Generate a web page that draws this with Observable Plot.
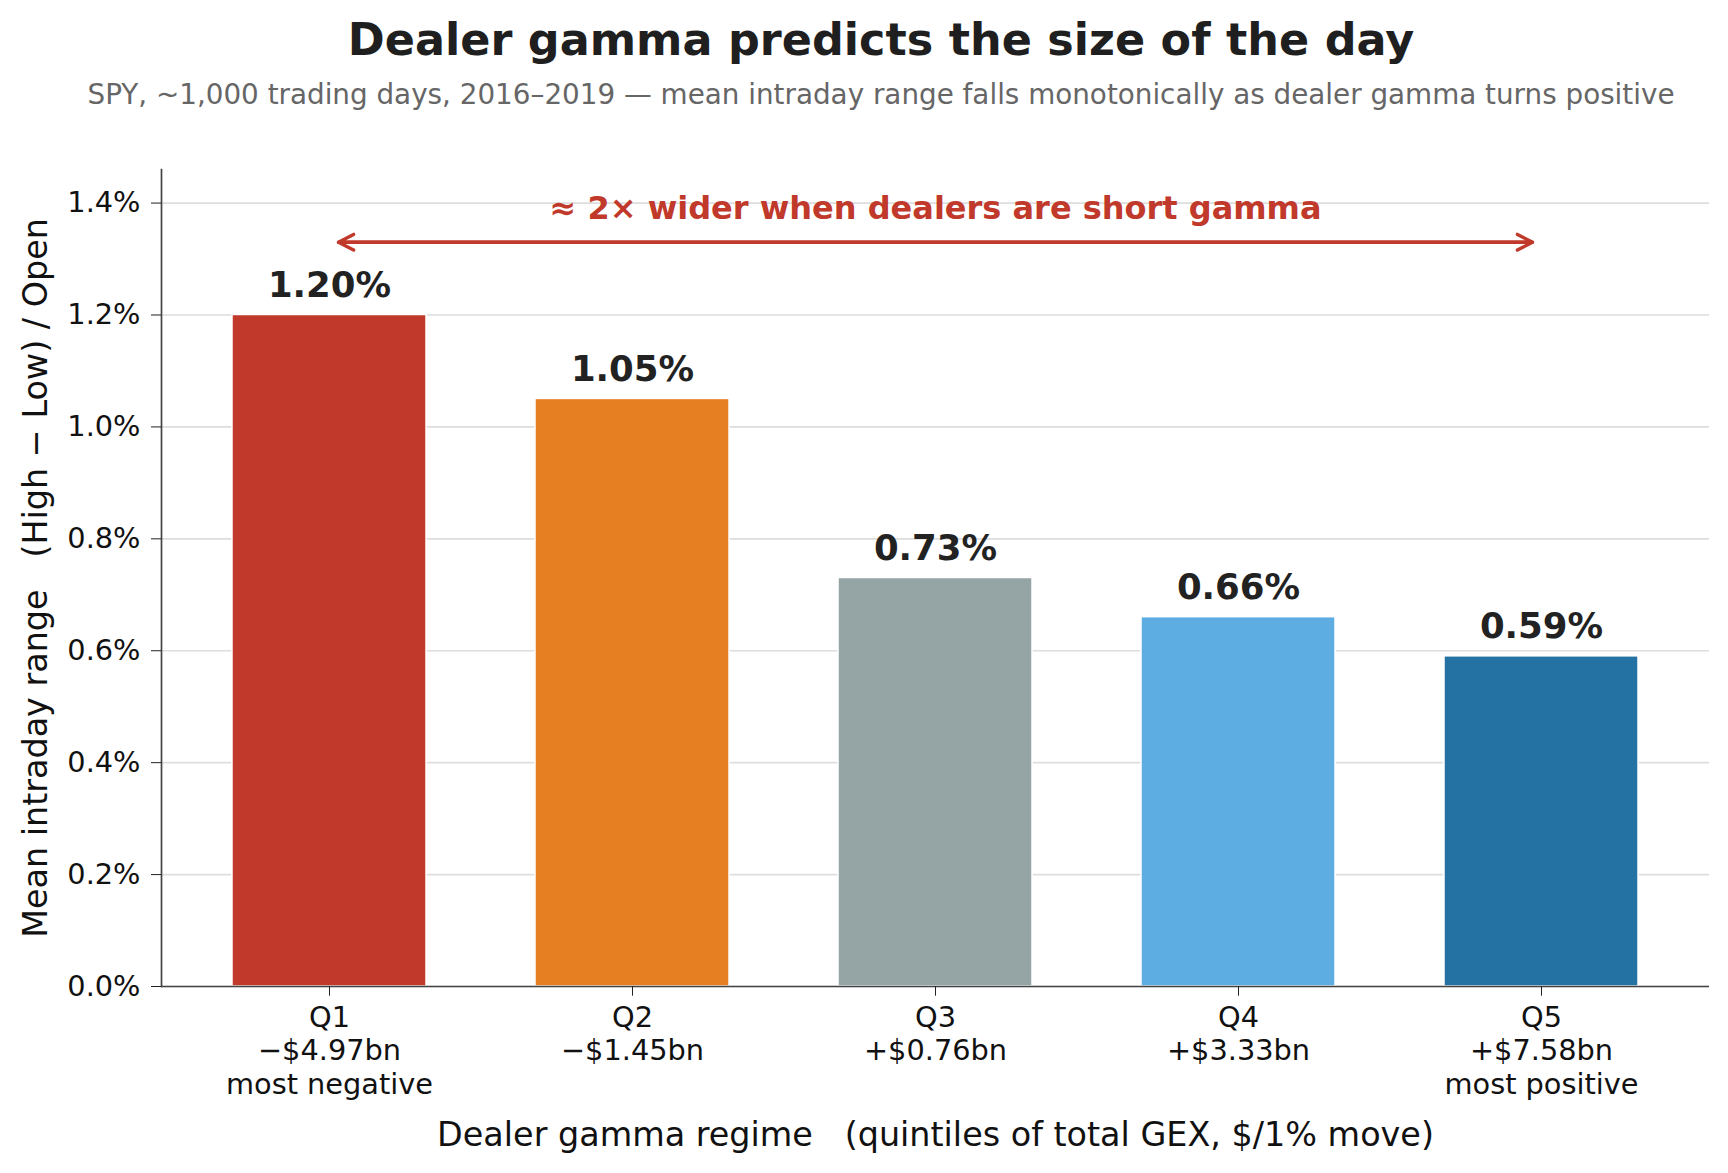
<!DOCTYPE html>
<html>
<head>
<meta charset="utf-8">
<script src="https://cdn.jsdelivr.net/npm/d3@7"></script>
<script src="https://cdn.jsdelivr.net/npm/@observablehq/plot@0.6"></script>
<style>
  html, body { margin: 0; padding: 0; background: #fff; }
  #wrap { position: relative; width: 1728px; height: 1173px; overflow: hidden; font-family: "DejaVu Sans", sans-serif; }
  #title { position: absolute; left: 0; width: 1762px; text-align: center; top: 18px; font-size: 44.5px; line-height: 44.5px; font-weight: bold; color: #1f1f1f; white-space: nowrap; }
  #subtitle { position: absolute; left: 0; width: 1762px; text-align: center; top: 80.5px; font-size: 27.8px; line-height: 27.8px; color: #666; white-space: nowrap; }
  #chart { position: absolute; left: 0; top: 0; }
  #chart svg text { white-space: pre; }
</style>
</head>
<body>
<div id="wrap">
  <div id="chart"></div>
  <div id="title">Dealer gamma predicts the size of the day</div>
  <div id="subtitle">SPY, ~1,000 trading days, 2016–2019 — mean intraday range falls monotonically as dealer gamma turns positive</div>
</div>
<script>
// ---- data ----
const quintiles = ["Q1", "Q2", "Q3", "Q4", "Q5"];
const gexLabels = ["−$4.97bn", "−$1.45bn", "+$0.76bn", "+$3.33bn", "+$7.58bn"];
const notes = ["most negative", "", "", "", "most positive"];
const meanRange = [1.20, 1.05, 0.73, 0.66, 0.59];
const barColors = ["#c0392b", "#e67e22", "#95a5a6", "#5dade2", "#2471a3"];
const yTicks = [0, 0.2, 0.4, 0.6, 0.8, 1.0, 1.2, 1.4];
const arrowSpan = [{from: "Q1", to: "Q5", y: 1.33}];
const arrowNote = [{x: "Q3", y: 1.371, text: "≈ 2× wider when dealers are short gamma"}];
const xLabel = "Dealer gamma regime   (quintiles of total GEX, $/1% move)";
const yLabel = "Mean intraday range   (High − Low) / Open";

const data = quintiles.map((q, i) => ({q, v: meanRange[i], gex: gexLabels[i], note: notes[i]}));
const tickText = Object.fromEntries(data.map(d => [d.q, [d.q, d.gex, d.note].filter(Boolean).join("\n")]));

const font = "DejaVu Sans";
const chart = Plot.plot({
  width: 1728,
  height: 1173,
  marginLeft: 161,
  marginRight: 19,
  marginTop: 169,
  marginBottom: 187,
  style: {fontFamily: font, background: "transparent", color: "#111"},
  x: {type: "band", domain: quintiles, paddingInner: 0.36, paddingOuter: 0.23},
  y: {domain: [0, 1.46]},
  color: {domain: quintiles, range: barColors},
  marks: [
    Plot.gridY(yTicks, {stroke: "#dddddd", strokeOpacity: 1, strokeWidth: 1.6}),
    Plot.barY(data, {x: "q", y: "v", fill: "q", stroke: "white", strokeWidth: 1.5}),
    Plot.frame({anchor: "left", stroke: "#444", strokeWidth: 1.7}),
    Plot.ruleY([0], {stroke: "#444", strokeWidth: 1.7}),
    Plot.axisY({
      ticks: yTicks,
      tickFormat: d => d.toFixed(1) + "%",
      tickSize: 10,
      tickPadding: 11,
      fontSize: 28.8,
      stroke: "#222",
      label: null
    }),
    Plot.axisY({
      ticks: [],
      fontSize: 33.4,
      label: yLabel,
      labelAnchor: "center",
      labelArrow: "none",
      labelOffset: 138.7
    }),
    Plot.axisX({
      tickFormat: d => tickText[d],
      tickSize: 9.7,
      tickPadding: 6.8,
      fontSize: 28.8,
      lineHeight: 1.16,
      stroke: "#222",
      label: null
    }),
    Plot.axisX({
      ticks: [],
      fontSize: 33.4,
      label: xLabel,
      labelAnchor: "center",
      labelArrow: "none",
      labelOffset: 159
    }),
    Plot.text(data, {x: "q", y: "v", text: d => d.v.toFixed(2) + "%", lineAnchor: "bottom", dy: -18, fontSize: 35.5, fontWeight: "bold", fill: "#222"}),
    Plot.arrow(arrowSpan, {x1: "from", x2: "to", y1: "y", y2: "y", stroke: "#c0392b", strokeWidth: 3.4, headLength: 7.5, headAngle: 55, insetStart: 9, insetEnd: 9, bend: false}),
    Plot.arrow(arrowSpan, {x1: "to", x2: "from", y1: "y", y2: "y", stroke: "#c0392b", strokeWidth: 3.4, headLength: 7.5, headAngle: 55, insetStart: 9, insetEnd: 9, bend: false}),
    Plot.text(arrowNote, {x: "x", y: "y", text: "text", lineAnchor: "bottom", fontSize: 32, fontWeight: "bold", fill: "#c0392b"})
  ]
});
document.getElementById("chart").appendChild(chart);
</script>
</body>
</html>
